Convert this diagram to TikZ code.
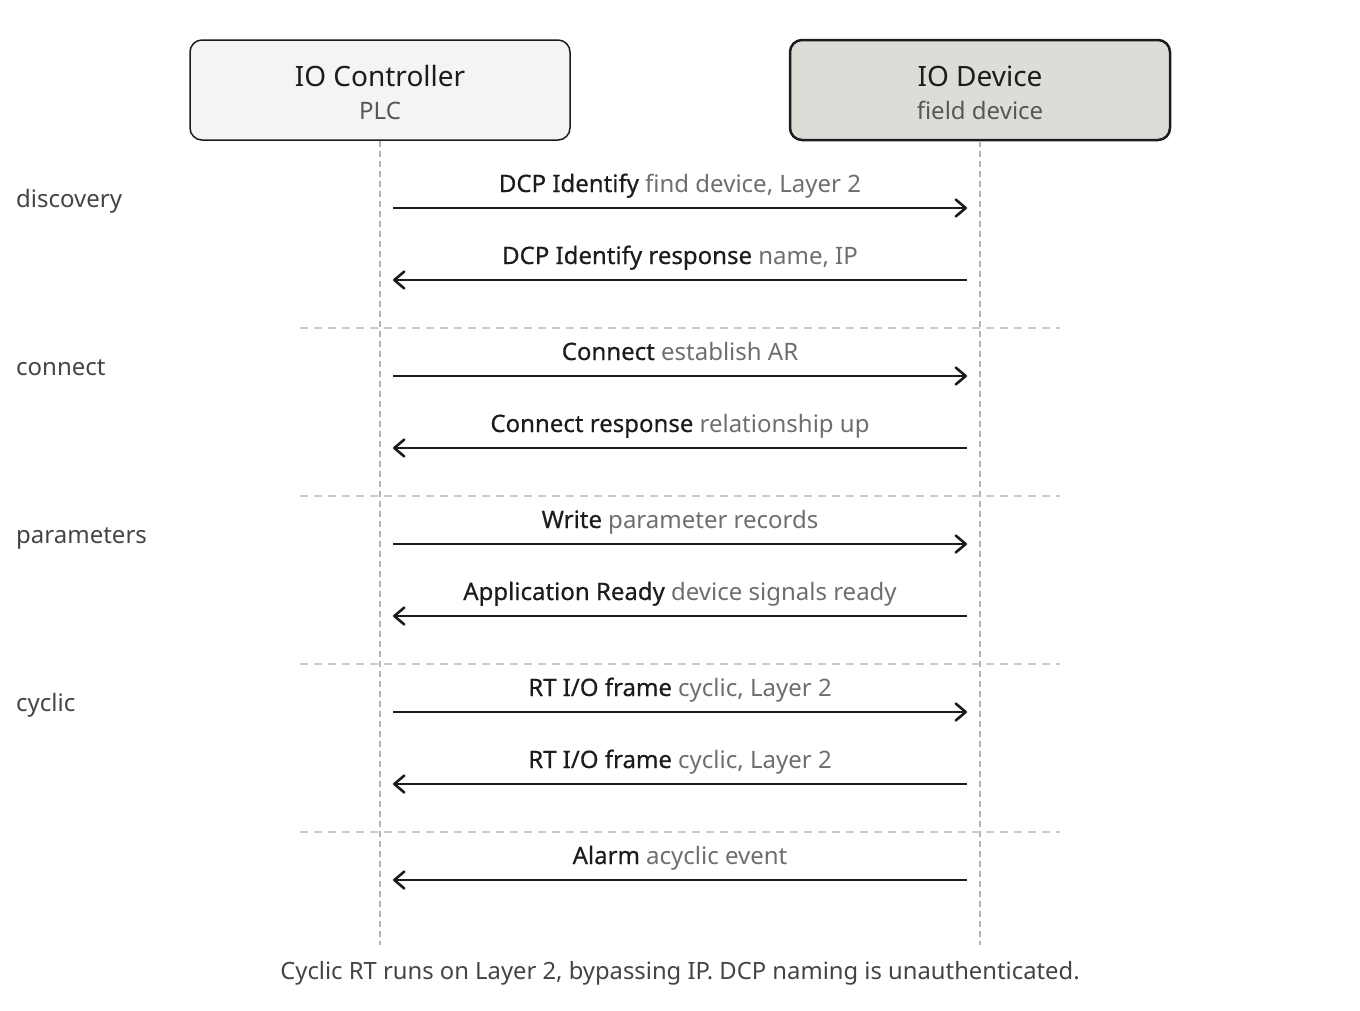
\documentclass[tikz,border=0pt]{standalone}
\usepackage{fontspec}
\setmainfont{Noto Sans}
\newfontfamily\semifont[FakeBold=0.5]{Noto Sans}
\usetikzlibrary{arrows.meta}
\definecolor{inkdark}{HTML}{1C1C1C}
\definecolor{inkgray}{HTML}{6E6E6E}
\definecolor{inkphase}{HTML}{444444}
\definecolor{lifegray}{HTML}{B4B4B4}
\definecolor{sepgray}{HTML}{CACACA}
\definecolor{ctrlfill}{HTML}{F4F4F2}
\definecolor{devfill}{HTML}{DDDDD8}
\tikzset{
  actor/.style={draw=inkdark,rounded corners=12pt,minimum width=380pt,minimum height=100pt,inner sep=0pt},
  lifeline/.style={draw=lifegray,line width=1.5pt,dash pattern=on 6pt off 4pt},
  phasesep/.style={draw=sepgray,line width=1.5pt,dash pattern=on 8pt off 6pt},
  msg/.style={draw=inkdark,line width=2.6pt,-{Straight Barb[length=10pt,width=17pt,line width=2.6pt,round]}},
  msglabel/.style={anchor=base,font=\fontsize{24}{28}\selectfont,text=inkgray},
  phase/.style={anchor=base west,inner sep=0pt,font=\fontsize{24}{28}\selectfont,text=inkphase},
}
\newcommand{\msgtext}[2]{{\semifont\color{inkdark}#1} #2}
\begin{document}
\begin{tikzpicture}[line cap=butt,line join=round,x=1pt,y=-1pt]
        \useasboundingbox (0,0) rectangle (1360,1010);
        % actors
        \node [actor,fill=ctrlfill,line width=1.5pt] (ctrl) at (380,90) {};
        \node [actor,fill=devfill,line width=2.5pt] (dev) at (980,90) {};
        \node [anchor=base,font=\fontsize{28}{32}\selectfont,text=inkdark] at (380,86) {IO Controller};
        \node [anchor=base,font=\fontsize{24}{28}\selectfont,text=inkphase!90] at (380,119) {PLC};
        \node [anchor=base,font=\fontsize{28}{32}\selectfont,text=inkdark] at (980,86) {IO Device};
        \node [anchor=base,font=\fontsize{24}{28}\selectfont,text=inkphase!90] at (980,119) {field device};
        % lifelines
        \coordinate (ctrlend) at (380,945);
        \coordinate (devend) at (980,945);
        \draw [lifeline] (ctrl.south) -- (ctrlend);
        \draw [lifeline] (dev.south) -- (devend);
        % phase separators
        \foreach \y in {328,496,664,832}
            \draw [phasesep] (300,\y) -- (1060,\y);
        % phase labels
        \node [phase] at (16,207) {discovery};
        \node [phase] at (16,375) {connect};
        \node [phase] at (16,543) {parameters};
        \node [phase] at (16,711) {cyclic};
        % messages
        \foreach \y/\dir/\head/\rest in {
            208/1/{DCP Identify}/{find device, Layer 2},
            280/0/{DCP Identify response}/{name, IP},
            376/1/{Connect}/{establish AR},
            448/0/{Connect response}/{relationship up},
            544/1/{Write}/{parameter records},
            616/0/{Application Ready}/{device signals ready},
            712/1/{RT I/O frame}/{cyclic, Layer 2},
            784/0/{RT I/O frame}/{cyclic, Layer 2},
            880/0/{Alarm}/{acyclic event}}
        {
            \coordinate (a) at (393,\y);
            \coordinate (b) at (967,\y);
            \ifnum\dir=1
                \draw [msg] (a) -- (b);
            \else
                \draw [msg] (b) -- (a);
            \fi
            \node [msglabel] at (680,\y-16) {\msgtext{\head}{\rest}};
        }
        % caption
        \node [anchor=base,font=\fontsize{23.8}{28}\selectfont,text=inkphase] at (680,979) {Cyclic RT runs on Layer 2, bypassing IP. DCP naming is unauthenticated.};
    \end{tikzpicture}
\end{document}
